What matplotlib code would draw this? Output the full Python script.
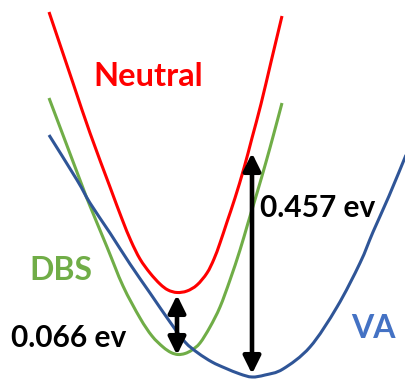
import matplotlib
matplotlib.use("Agg")
import matplotlib.pyplot as plt
from matplotlib.path import Path
from matplotlib.patches import PathPatch

neutral_x = [49, 73, 90, 110, 122, 131, 140, 150, 160, 168, 177, 187, 197, 207, 214, 220, 227, 235, 244, 252, 261, 271, 282]
neutral_y = [12, 83, 133, 187, 219, 241, 259, 273, 284, 290, 292.5, 291, 285, 273, 259, 243, 222, 198, 168, 138, 104, 62, 16]

dbs_x = [49, 66, 83, 90, 107, 123, 140, 152, 163, 171, 178, 185, 192, 200, 210, 220, 230, 240, 248, 257, 266, 274, 282]
dbs_y = [98, 143, 188, 206, 247, 286, 318, 336, 347, 352.5, 354.5, 353.5, 350, 343, 327, 307, 280, 250, 223, 193, 162, 133, 103]

va_x = [49, 77, 90, 110, 130, 150, 170, 185, 198, 212, 225, 240, 252, 265, 283, 310, 337, 360, 373, 389, 406]
va_y = [135, 180, 203, 233, 264, 293, 322, 342, 353, 362, 368, 374, 377, 375, 369, 347, 307, 263, 232, 196, 155]

series = [
    ("Neutral", neutral_x, neutral_y, "#FF0000"),
    ("DBS", dbs_x, dbs_y, "#70AD47"),
    ("VA", va_x, va_y, "#2F5597"),
]

# Energy gaps (arrows): x, y_top, y_bottom, label
gap_small = (177, 295, 355, "0.066 ev")
gap_large = (252, 153, 374, "0.457 ev")


def smooth_path(xs, ys):
    pts = list(zip(xs, ys))
    verts = [pts[0]]
    codes = [Path.MOVETO]
    n = len(pts)
    for i in range(n - 1):
        p0 = pts[i - 1] if i > 0 else pts[i]
        p1 = pts[i]
        p2 = pts[i + 1]
        p3 = pts[i + 2] if i + 2 < n else pts[i + 1]
        c1 = (p1[0] + (p2[0] - p0[0]) / 6, p1[1] + (p2[1] - p0[1]) / 6)
        c2 = (p2[0] - (p3[0] - p1[0]) / 6, p2[1] - (p3[1] - p1[1]) / 6)
        verts += [c1, c2, p2]
        codes += [Path.CURVE4] * 3
    return Path(verts, codes)


fig = plt.figure(figsize=(4.06, 3.79), dpi=100)
ax = fig.add_axes([0, 0, 1, 1])
ax.set_xlim(0, 406)
ax.set_ylim(379, 0)
ax.axis("off")

for name, xs, ys, col in series:
    ax.add_patch(PathPatch(smooth_path(xs, ys), fill=False, edgecolor=col,
                           lw=2.2, capstyle="butt", joinstyle="round"))

for gx, gt, gb, _ in (gap_small, gap_large):
    ax.annotate("", xy=(gx, gt), xytext=(gx, gb),
                arrowprops=dict(arrowstyle="<|-|>,head_length=10.5,head_width=5.2",
                                mutation_scale=1, lw=3.3, color="black",
                                shrinkA=0, shrinkB=0))

font = "Lato"
ax.text(148, 76, "Neutral", color="#FF0000", fontsize=23.5, fontweight="bold",
        family=font, ha="center", va="center")
ax.text(61, 270, "DBS", color="#70AD47", fontsize=23, fontweight="bold",
        family=font, ha="center", va="center")
ax.text(373, 328, "VA", color="#4472C4", fontsize=23, fontweight="bold",
        family=font, ha="center", va="center")
ax.text(318, 208, gap_large[3], color="black", fontsize=21.5, fontweight="bold",
        family=font, ha="center", va="center")
ax.text(69, 338, gap_small[3], color="black", fontsize=21.5, fontweight="bold",
        family=font, ha="center", va="center")

fig.savefig("out.png", dpi=100, facecolor="white")
